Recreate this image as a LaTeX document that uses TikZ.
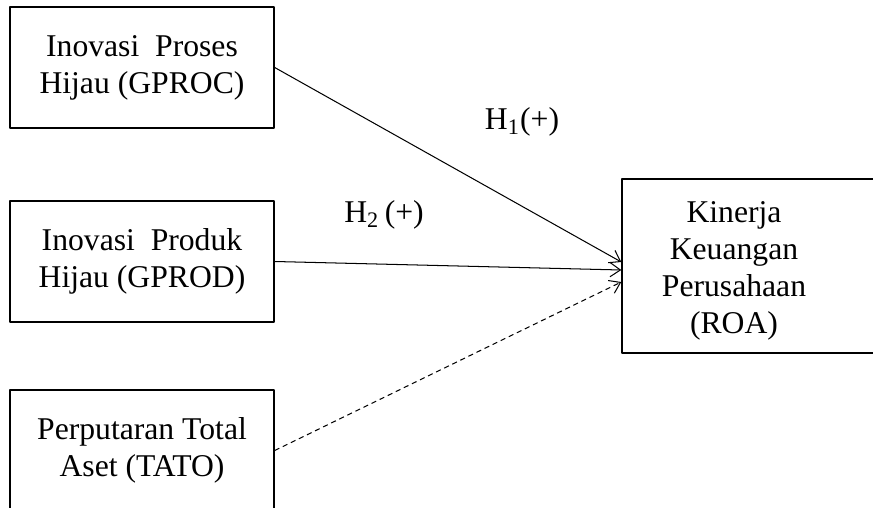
\documentclass[tikz,border=0pt]{standalone}
\usepackage{fontspec}
\setmainfont{Liberation Serif}
\usetikzlibrary{arrows.meta,calc}
\begin{document}
\begin{tikzpicture}[x=0.39pt,y=-0.39pt,font=\fontsize{12.35}{14.5}\selectfont,line join=round,>={Straight Barb[length=4pt,width=5.5pt]},
	box/.style={draw,line width=0.55pt,minimum width=264*0.39pt,minimum height=121*0.39pt,align=center,inner sep=0pt},
	hyp/.style={inner sep=0pt}]
		\useasboundingbox (0,0) rectangle (873,508);
		\node[box] (gproc) at (142,67.5) {Inovasi\ \ Proses\\Hijau (GPROC)};
		\node[box] (gprod) at (142,261.5) {Inovasi\ \ Produk\\Hijau (GPROD)};
		\node[box] (tato) at (142,450.5) {Perputaran Total\\Aset (TATO)};
		\node[box,minimum width=262*0.39pt,minimum height=174*0.39pt] (roa) at (753,266) {};
		\node[align=center,inner sep=0pt] (roatxt) at (734,271) {Kinerja\\Keuangan\\Perusahaan\\(ROA)};
		\draw[->,line width=0.4pt] (gproc.east)--($(roa.west)+(0,-4)$);
		\draw[->,line width=0.4pt] (gprod.east)--($(roa.west)+(0,4)$);
		\draw[->,line width=0.4pt,dash pattern=on 2pt off 1.5pt] (tato.east)--($(roa.west)+(0,16)$);
		\node[hyp] (h1) at (522,122) {H\textsubscript{1}(+)};
		\node[hyp] (h2) at (384,215) {H\textsubscript{2}\,(+)};
\end{tikzpicture}
\end{document}
